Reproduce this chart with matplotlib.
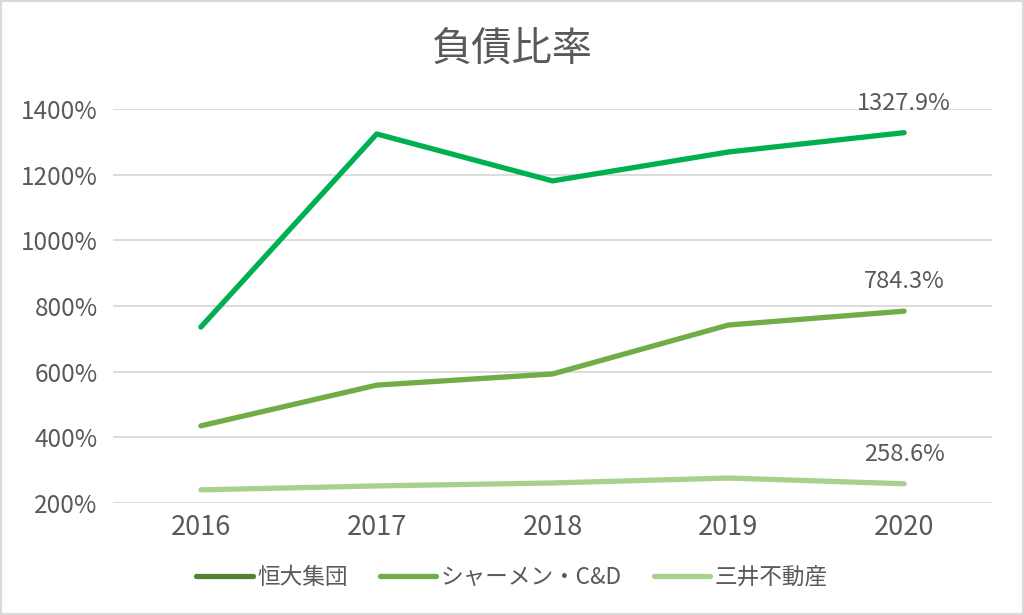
import matplotlib
matplotlib.use("Agg")
import matplotlib.pyplot as plt
from matplotlib.lines import Line2D

plt.rcParams['font.family'] = ['Noto Sans CJK JP', 'DejaVu Sans']

# data
years = ['2016', '2017', '2018', '2019', '2020']
evergrande = [736, 1324, 1181, 1269, 1327.9]
xiamen_cd = [435, 559, 593, 742, 784.3]
mitsui = [240, 252, 261, 276, 258.6]
series_names = ['恒大集団', 'シャーメン・C&D', '三井不動産']
line_colors = ['#00B050', '#70AD47', '#A9D18E']
legend_colors = ['#548235', '#70AD47', '#A9D18E']
yticks = [200, 400, 600, 800, 1000, 1200, 1400]

text_color = '#595959'

fig = plt.figure(figsize=(10.24, 6.15), dpi=100)
ax = fig.add_axes([113/1024, 1 - 503/615, (992 - 113)/1024, (503 - 109)/615])

x = range(len(years))
all_series = [evergrande, xiamen_cd, mitsui]
for vals, col in zip(all_series, line_colors):
    ax.plot(x, vals, color=col, lw=3.8, solid_capstyle='round', solid_joinstyle='round', zorder=3)
    # label only the last point
    ax.annotate(f'{vals[-1]:.1f}%', (x[-1], vals[-1]), xytext=(0, 13), textcoords='offset points',
                ha='center', va='bottom', fontsize=17, color=text_color)

ax.set_xlim(-0.5, len(years) - 0.5)
ax.set_ylim(200, 1400)
ax.set_yticks(yticks)
ax.set_yticklabels([f'{t}%' for t in yticks])
ax.set_xticks(list(x))
ax.set_xticklabels(years)
ax.tick_params(axis='both', length=0, colors=text_color)
ax.tick_params(axis='y', pad=11, labelsize=17.5)
ax.tick_params(axis='x', pad=8, labelsize=19.5)
ax.grid(axis='y', color='#D9D9D9', lw=1.3)
ax.set_axisbelow(True)
for s in ax.spines.values():
    s.set_visible(False)

fig.text(0.5, 1 - 50/615, '負債比率', ha='center', va='center', fontsize=29, color=text_color)

handles = [Line2D([0], [0], color=c, lw=3.8, solid_capstyle='round') for c in legend_colors]
fig.legend(handles, series_names, loc='center', bbox_to_anchor=(0.5, 1 - 577/615), ncol=3,
           frameon=False, fontsize=16.3, labelcolor=text_color, handlelength=2.5, handletextpad=0.2,
           columnspacing=1.4)

# thin grey border around the whole image
fig.patches.append(plt.Rectangle((0.001, 0.001), 0.998, 0.997, transform=fig.transFigure,
                                 fill=False, edgecolor='#D9D9D9', lw=1.5))

fig.savefig('out.png', dpi=100)
